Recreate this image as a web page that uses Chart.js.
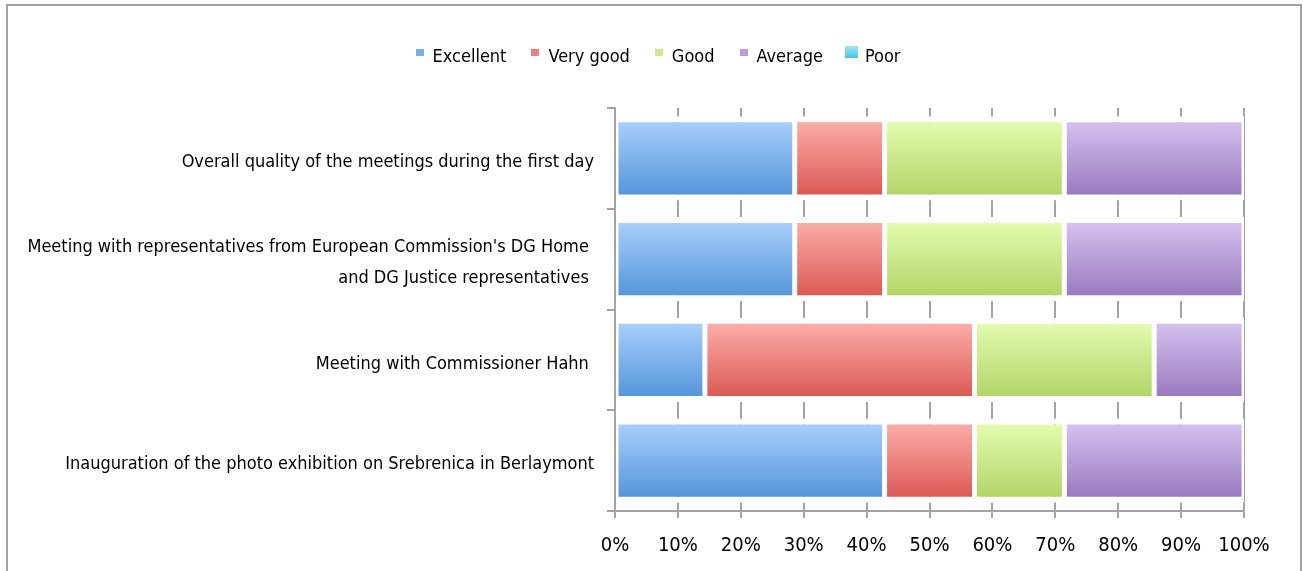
<!DOCTYPE html>
<html>
<head>
<meta charset="utf-8">
<script src="https://cdn.jsdelivr.net/npm/chart.js@4/dist/chart.umd.min.js"></script>
<style>
  html, body { margin: 0; padding: 0; background: #fff; }
  #wrap { position: relative; width: 1303px; height: 571px; overflow: hidden; }
  #frame { position: absolute; left: 6px; top: 4px; width: 1296px; height: 620px; box-sizing: border-box; border: 2px solid #a3a3a3; pointer-events: none; }
  canvas { position: absolute; left: 0; top: 0; }
</style>
</head>
<body>
<div id="wrap">
  <div id="frame"></div>
  <canvas id="chart" width="1303" height="571"></canvas>
</div>
<script>
// ---- data (percent of answers) ----
const categories = [
    'Overall quality of the meetings during the first day',
    ["Meeting with representatives from European Commission's DG Home ", 'and DG Justice representatives '],
    'Meeting with Commissioner Hahn ',
    'Inauguration of the photo exhibition on Srebrenica in Berlaymont'
];
const seriesNames = ['Excellent', 'Very good', 'Good', 'Average', 'Poor'];
const excellent = [28.57, 28.57, 14.29, 42.86];
const veryGood  = [14.29, 14.29, 42.86, 14.29];
const good      = [28.57, 28.57, 28.57, 14.29];
const average   = [28.57, 28.57, 14.29, 28.57];
const poor      = [0, 0, 0, 0];
const xTicks = [0, 10, 20, 30, 40, 50, 60, 70, 80, 90, 100];

// gradient stops per series: [top, bottom, legend]
const palette = [
    ['#a8cefb', '#5596da', '#78aceb'],
    ['#fcaca8', '#db5a54', '#ea827d'],
    ['#e3fbae', '#b2d568', '#cde98f'],
    ['#d4c0f0', '#9a7bbf', '#b79ddb'],
    ['#a3e8f8', '#48c3e1', '#6fd3ec']
];

const FONT = "'Liberation Sans Narrow', 'DejaVu Sans Condensed', 'Arial Narrow', sans-serif";
const BAR_PCT = 0.834;
const BORDER_V = 6;
const PAD_LEFT = 20;
const PAD_TOP = 23;
const LEGEND_SHIFT = 26; // legend sits a bit right of the canvas centre

function barGradient(idx) {
    return (ctx) => {
        const chart = ctx.chart;
        const area = chart.chartArea;
        if (!area || ctx.dataIndex === undefined) return palette[idx][2];
        const catH = (area.bottom - area.top) / categories.length;
        const mid = chart.scales.y.getPixelForValue(ctx.dataIndex);
        const half = catH * BAR_PCT / 2;
        const g = chart.ctx.createLinearGradient(0, mid - half + BORDER_V, 0, mid + half - BORDER_V);
        g.addColorStop(0, palette[idx][0]);
        g.addColorStop(1, palette[idx][1]);
        return g;
    };
}

// small legend markers sitting at the top of the text line (Poor one is bigger)
function legendMarker(idx) {
    const big = idx === 4;
    const w = big ? 13 : 8, h = big ? 24 : 18, s = big ? 12 : 7;
    const c = document.createElement('canvas');
    c.width = w; c.height = h;
    const g2 = c.getContext('2d');
    const grad = g2.createLinearGradient(0, 1, 0, 1 + s);
    grad.addColorStop(0, palette[idx][0]);
    grad.addColorStop(1, palette[idx][1]);
    g2.fillStyle = big ? grad : palette[idx][2];
    g2.fillRect(0, 1, w, s);
    return c;
}

const seriesData = [excellent, veryGood, good, average, poor];

const legendTweak = {
    id: 'legendTweak',
    afterInit(chart) {
        const legend = chart.legend;
        const origFit = legend.fit;
        legend.fit = function () {
            origFit.call(this);
            this.height = 108 - PAD_TOP;
        };
        const origDraw = legend.draw;
        legend.draw = function (...args) {
            const c = this.ctx;
            c.save();
            c.translate(LEGEND_SHIFT, 0);
            origDraw.apply(this, args);
            c.restore();
        };
    }
};

new Chart(document.getElementById('chart').getContext('2d'), {
    type: 'bar',
    data: {
        labels: categories,
        datasets: seriesNames.map((name, i) => ({
            label: name,
            data: seriesData[i],
            backgroundColor: barGradient(i),
            borderColor: '#ffffff',
            borderWidth: { top: BORDER_V, bottom: BORDER_V, left: 2.5, right: 2.5 },
            borderSkipped: false,
            barPercentage: BAR_PCT,
            categoryPercentage: 1.0
        }))
    },
    plugins: [legendTweak],
    options: {
        indexAxis: 'y',
        responsive: false,
        animation: false,
        devicePixelRatio: 1,
        layout: { padding: { left: PAD_LEFT, right: 59, top: PAD_TOP, bottom: 0 } },
        plugins: {
            tooltip: { enabled: false },
            legend: {
                position: 'top',
                labels: {
                    color: '#000',
                    font: { family: FONT, size: 18 },
                    usePointStyle: true,
                    boxWidth: 8,
                    boxHeight: 18,
                    padding: 25,
                    generateLabels: (chart) => chart.data.datasets.map((ds, i) => ({
                        text: ds.label,
                        fillStyle: palette[i][2],
                        strokeStyle: palette[i][2],
                        lineWidth: 0,
                        pointStyle: legendMarker(i),
                        fontColor: '#000',
                        datasetIndex: i
                    }))
                }
            }
        },
        scales: {
            x: {
                stacked: true,
                min: 0,
                max: 100,
                afterFit: (scale) => { scale.height = 60; },
                afterBuildTicks: (scale) => { scale.ticks = xTicks.map(v => ({ value: v })); },
                ticks: {
                    color: '#000',
                    font: { family: FONT, size: 20 },
                    padding: 16,
                    callback: v => v + '%'
                },
                grid: { color: '#a3a3a3', lineWidth: 2, tickLength: 7 },
                border: { color: '#a3a3a3', width: 2 }
            },
            y: {
                stacked: true,
                afterFit: (scale) => { scale.width = 615 - PAD_LEFT; },
                ticks: {
                    color: '#000',
                    font: { family: FONT, size: 18, lineHeight: 1.7 },
                    padding: 13,
                    labelOffset: 4
                },
                grid: { offset: true, drawOnChartArea: false, color: '#a3a3a3', lineWidth: 2, tickLength: 8 },
                border: { color: '#a3a3a3', width: 2 }
            }
        }
    }
});
</script>
</body>
</html>
